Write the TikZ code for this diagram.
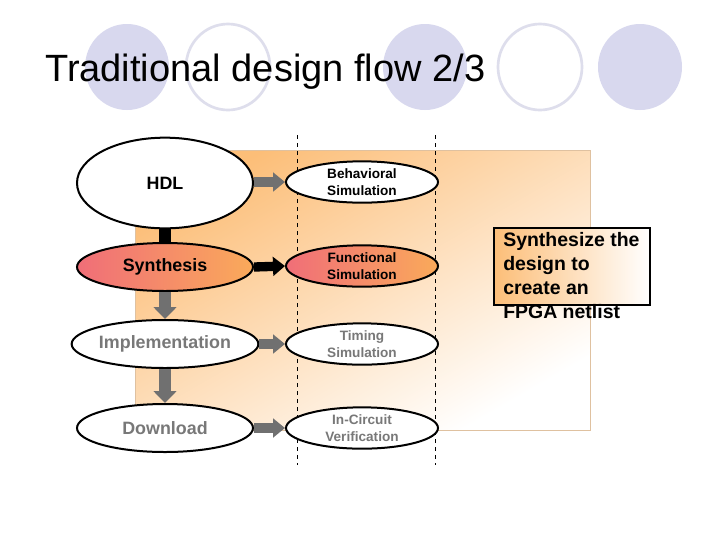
\documentclass[tikz,border=0pt]{standalone}
\usepackage{fontspec}
\setmainfont{Liberation Sans}
\usetikzlibrary{shapes.geometric,arrows.meta}
\definecolor{lav}{RGB}{216,216,238}
\definecolor{lavline}{RGB}{222,222,236}
\definecolor{bgor}{RGB}{252,190,120}
\definecolor{synl}{RGB}{240,110,120}
\definecolor{synr}{RGB}{250,170,90}
\definecolor{gtxt}{RGB}{120,120,120}
\definecolor{garr}{RGB}{112,112,112}
\begin{document}
\begin{tikzpicture}[x=0.75pt,y=-0.75pt,
 lft/.style={ellipse,draw=black,line width=1.5pt,minimum width=132pt,minimum height=36pt,font=\bfseries\fontsize{13.4}{15}\selectfont,inner sep=0pt},
 rgt/.style={ellipse,draw=black,line width=1.5pt,fill=white,minimum width=114pt,minimum height=31pt,font=\bfseries\fontsize{10.2}{12.5}\selectfont,align=center,inner sep=0pt},
 harr/.style={line width=7pt,draw=garr,-{Triangle[length=9pt,width=14pt]}},
 varr/.style={line width=9pt,draw=garr,-{Triangle[length=9pt,width=17pt]}}]
\useasboundingbox (0,0) rectangle (720,540);
\fill[white] (0,0) rectangle (720,540);
% decorative circles
\fill[lav] (127,67) ellipse [x radius=42, y radius=43];
\draw[lavline,line width=2pt] (228,67) ellipse [x radius=42, y radius=43];
\fill[lav] (425,67) ellipse [x radius=42, y radius=43];
\draw[lavline,line width=2pt] (540,67) ellipse [x radius=42, y radius=43];
\fill[lav] (640,67) ellipse [x radius=42, y radius=43];
\node[anchor=base west,font=\fontsize{28.5}{32}\selectfont,inner sep=0pt] (title) at (45,81) {Traditional design flow 2/3};
% background box
\shade[top color=bgor,bottom color=white,shading angle=30,draw=bgor!80!black!60,line width=0.5pt] (135,150) rectangle (590,430);
\draw[dashed,line width=0.6pt] (297,135) -- (297,465);
\draw[dashed,line width=0.6pt] (435,135) -- (435,465);
% left column
\node[lft,fill=white,minimum height=68pt] (hdl) at (165,183) {HDL};
\node[lft,left color=synl,right color=synr] (syn) at (165,267) {Synthesis};
\node[lft,fill=white,text=gtxt] (imp) at (165,344) {Implementation};
\node[lft,fill=white,text=gtxt] (dl) at (165,428) {Download};
% right column
\node[rgt] (beh) at (362,182) {Behavioral\\Simulation};
\node[rgt,fill=none,left color=synl,right color=synr] (fun) at (362,266) {Functional\\Simulation};
\node[rgt,text=gtxt] (tim) at (362,344) {Timing\\Simulation};
\node[rgt,text=gtxt] (ic) at (362,428) {In-Circuit\\Verification};
% connectors
\draw[harr] (hdl.east |- beh) -- (beh.west);
\draw[harr,draw=black] (syn.east) -- (fun.west);
\draw[harr] (imp.east |- tim) -- (tim.west);
\draw[harr] (dl.east |- ic) -- (ic.west);
\draw[line width=9pt,black] (hdl.south) -- (syn.north);
\draw[varr] (syn.south) -- (imp.north);
\draw[varr] (imp.south) -- (dl.north);
% note box
\node[draw=black,line width=1.6pt,left color=bgor,right color=white,minimum width=117pt,minimum height=58pt,anchor=north west,inner sep=0pt] (note) at (493,227) {};
\node[anchor=north west,align=left,font=\bfseries\fontsize{14.6}{18}\selectfont,inner sep=0pt] (notetxt) at (503,232) {Synthesize the\\design to\\create an\\FPGA netlist};
\end{tikzpicture}
\end{document}
